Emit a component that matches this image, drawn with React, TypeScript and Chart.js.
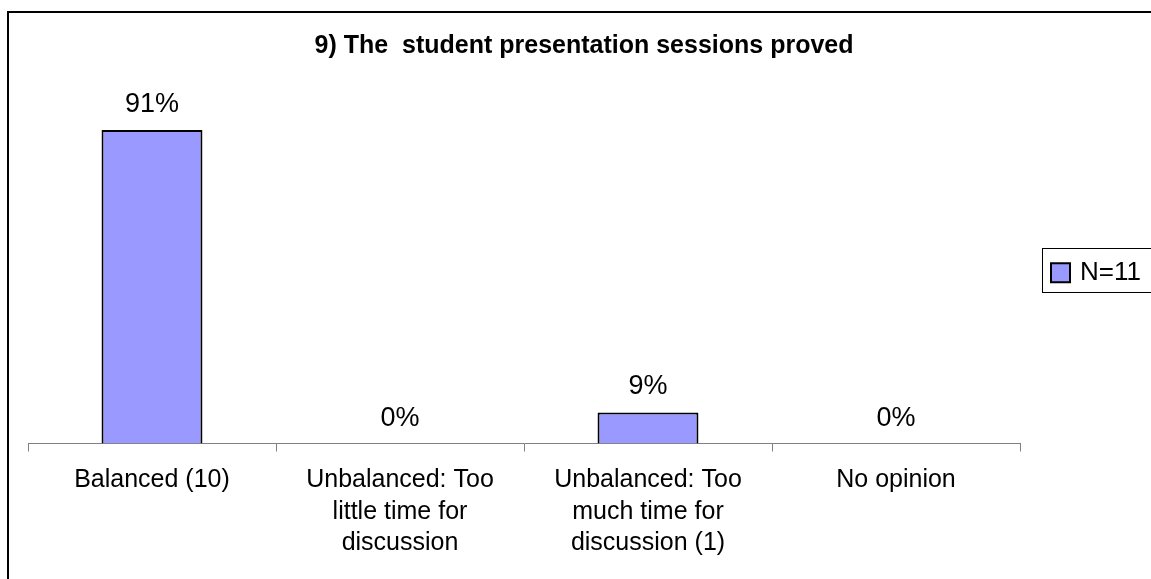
import React, { useEffect, useRef } from "react";
import { Chart, registerables } from "chart.js";

Chart.register(...registerables);

const titleText = "9) The  student presentation sessions proved";
const categories: string[][] = [
  ["Balanced (10)"],
  ["Unbalanced: Too", "little time for", "discussion"],
  ["Unbalanced: Too", "much time for", "discussion (1)"],
  ["No opinion"],
];
const values: number[] = [91, 0, 9, 0];
const seriesLabel = "N=11";
const yMin = 0;
const yMax = 100;

const FONT = '"Liberation Sans", Arial, sans-serif';
const BAR_FILL = "#9999FF";

const framePlugin = {
  id: "frame",
  beforeDraw(chart: any) {
    const ctx = chart.ctx;
    ctx.save();
    ctx.fillStyle = "#ffffff";
    ctx.fillRect(0, 0, chart.width, chart.height);
    ctx.strokeStyle = "#000000";
    ctx.lineWidth = 2;
    ctx.strokeRect(8, 12, 2000, 2000);
    ctx.restore();
  },
};

const titleShiftPlugin = {
  id: "titleShift",
  afterLayout(chart: any) {
    const tb = chart.titleBlock;
    if (tb) {
      tb.left = 8;
      tb.right = 1160;
    }
  },
};

const valueLabelPlugin = {
  id: "valueLabels",
  afterDatasetsDraw(chart: any) {
    const ctx = chart.ctx;
    const meta = chart.getDatasetMeta(0);
    const data = chart.data.datasets[0].data as number[];
    ctx.save();
    ctx.fillStyle = "#000000";
    ctx.font = `27px ${FONT}`;
    ctx.textAlign = "center";
    ctx.textBaseline = "alphabetic";
    meta.data.forEach((bar: any, i: number) => {
      ctx.fillText(`${data[i]}%`, bar.x, bar.y - 18);
    });
    ctx.restore();
  },
};

const legendPlugin = {
  id: "boxLegend",
  afterDraw(chart: any) {
    const ctx = chart.ctx;
    const { right, top, bottom } = chart.chartArea;
    const cy = (top + bottom) / 2;
    const x0 = right + 22;
    const ds = chart.data.datasets[0];
    ctx.save();
    ctx.strokeStyle = "#000000";
    ctx.lineWidth = 1;
    ctx.strokeRect(Math.round(x0) + 0.5, Math.round(cy - 23) + 0.5, 400, 44);
    ctx.fillStyle = ds.backgroundColor;
    ctx.fillRect(x0 + 9, cy - 8, 19, 19);
    ctx.lineWidth = 2;
    ctx.strokeRect(x0 + 9, cy - 8, 19, 19);
    ctx.fillStyle = "#000000";
    ctx.font = `26px ${FONT}`;
    ctx.textAlign = "left";
    ctx.textBaseline = "middle";
    ctx.fillText(ds.label, x0 + 38, cy + 2);
    ctx.restore();
  },
};

export default function App() {
  const canvasRef = useRef<HTMLCanvasElement | null>(null);

  useEffect(() => {
    const canvas = canvasRef.current;
    if (!canvas) return;
    const chart = new Chart(canvas, {
      type: "bar",
      data: {
        labels: categories,
        datasets: [
          {
            label: seriesLabel,
            data: values,
            backgroundColor: BAR_FILL,
            borderColor: "#000000",
            borderWidth: 2,
            barPercentage: 0.407,
            categoryPercentage: 1,
          },
        ],
      },
      options: {
        responsive: false,
        animation: false,
        devicePixelRatio: 1,
        layout: { padding: { left: 28, right: 131, top: 0, bottom: 7 } },
        plugins: {
          legend: { display: false },
          tooltip: { enabled: false },
          title: {
            display: true,
            text: titleText,
            color: "#000000",
            font: { family: FONT, size: 25, weight: "bold", lineHeight: 1.2 },
            padding: { top: 31, bottom: 38 },
          },
        },
        scales: {
          x: {
            type: "category",
            offset: true,
            grid: {
              display: true,
              offset: true,
              drawOnChartArea: false,
              drawTicks: true,
              tickLength: 8,
              color: "#808080",
              lineWidth: 1,
            },
            border: { display: true, color: "#808080", width: 1 },
            ticks: {
              color: "#000000",
              font: { family: FONT, size: 25, lineHeight: 1.26 },
              padding: 13,
              autoSkip: false,
              maxRotation: 0,
              minRotation: 0,
            },
          },
          y: {
            display: false,
            min: yMin,
            max: yMax,
          },
        },
      },
      plugins: [framePlugin, titleShiftPlugin, valueLabelPlugin, legendPlugin],
    });
    return () => chart.destroy();
  }, []);

  return (
    <div style={{ position: "absolute", left: 0, top: 0, width: 1151, height: 579 }}>
      <canvas ref={canvasRef} width={1151} height={579} style={{ display: "block" }} />
    </div>
  );
}
